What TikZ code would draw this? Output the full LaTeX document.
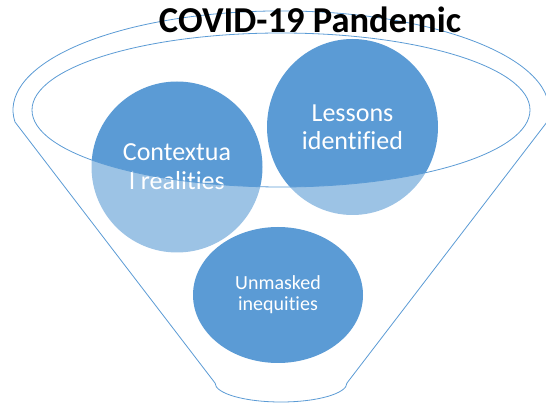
\documentclass[tikz,border=0pt]{standalone}
\usepackage{fontspec}
\setmainfont{Carlito}[Ligatures={NoCommon}]
\usetikzlibrary{shapes.geometric}
\definecolor{bleu}{HTML}{5B9BD5}

\begin{document}
\begin{tikzpicture}[x=1pt, y=1pt,
        bulle/.style={ellipse, fill=bleu, text=white, align=center, inner sep=0pt},
        trait/.style={draw=bleu, line width=0.8pt}]
        \useasboundingbox (0,0) rectangle (546,404);

        \node[bulle, minimum width=171, minimum height=171, font=\fontsize{26}{29}\selectfont] (C) at (177,237) {Contextua\\l realities};
        \node[bulle, minimum width=171, minimum height=176, font=\fontsize{26}{28}\selectfont] (L) at (352.5,277) {Lessons\\identified};

        % corps de l'entonnoir
        \fill[white, opacity=0.4, even odd rule] (547,282) arc[start angle=-7, end angle=187, x radius=268, y radius=99]
            -- (215,21) arc[start angle=180, end angle=360, x radius=66, y radius=19] -- cycle
            (281,294) ellipse[x radius=249, y radius=77];
        \draw[trait] (547,282) arc[start angle=-7, end angle=187, x radius=268, y radius=99]
            -- (215,21) arc[start angle=180, end angle=360, x radius=66, y radius=19] -- cycle;
        \draw[trait] (281,294) ellipse[x radius=249, y radius=77];

        \node[bulle, minimum width=170, minimum height=136, font=\fontsize{20}{21}\selectfont] (U) at (278,109) {Unmasked\\inequities};

        \node[font=\fontsize{36.5}{40}\selectfont\bfseries, anchor=base] (T) at (310,371) {COVID-19 Pandemic};
\end{tikzpicture}
\end{document}
